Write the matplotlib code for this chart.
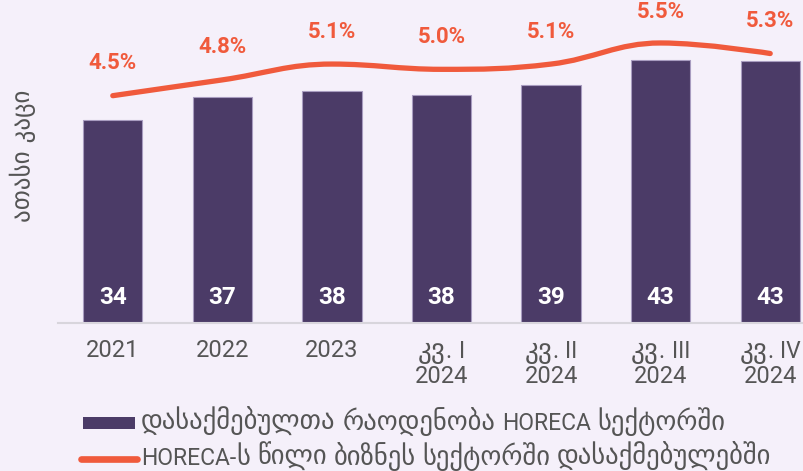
import matplotlib
matplotlib.use("Agg")
import matplotlib.pyplot as plt
from matplotlib.path import Path
from matplotlib.patches import PathPatch, Rectangle
from matplotlib.lines import Line2D
from matplotlib.transforms import IdentityTransform

categories = ["2021", "2022", "2023", "კვ. I\n2024", "კვ. II\n2024", "კვ. III\n2024", "კვ. IV\n2024"]
employed = [33.3, 37.0, 37.9, 37.3, 38.9, 43.0, 42.9]
employed_labels = ["34", "37", "38", "38", "39", "43", "43"]
share = [4.5, 4.8, 5.1, 5.0, 5.1, 5.5, 5.3]
share_labels = ["4.5%", "4.8%", "5.1%", "5.0%", "5.1%", "5.5%", "5.3%"]
ylabel = "ათასი კაცი"
legend_bar = "დასაქმებულთა რაოდენობა HORECA სექტორში"
legend_line = "HORECA-ს წილი ბიზნეს სექტორში დასაქმებულებში"

BG = "#F5F0FA"
BAR = "#4B3B67"
LINE = "#F05A3C"
GRAY = "#555555"
LAT = "Roboto"
GEO = "DejaVu Sans"

plt.rcParams["font.family"] = [LAT, GEO]

W, H = 804, 471
fig = plt.figure(figsize=(W / 100, H / 100), dpi=100, facecolor=BG)
renderer = fig.canvas.get_renderer()
ax = fig.add_axes([58 / W, (H - 323) / H, 767 / W, 303 / H])
ax.set_facecolor("none")
ax.patch.set_alpha(0)

x = list(range(len(categories)))
ax.bar(x, employed, width=0.54, color=BAR, edgecolor="#A89CC0", linewidth=0.8, zorder=2)
ax.set_xlim(-0.5, 6.5)
ax.set_ylim(0, 303 / 6.11)
for s in ["top", "right", "left"]:
    ax.spines[s].set_visible(False)
ax.spines["bottom"].set_color("#D8D5DC")
ax.spines["bottom"].set_linewidth(1.5)
ax.set_yticks([])
ax.set_xticks(x)
ax.set_xticklabels([])
ax.tick_params(axis="x", length=0)

for xi, lab in zip(x, employed_labels):
    ax.annotate(lab, (xi, 0), xytext=(0, 26), textcoords="offset pixels",
                ha="center", va="center", fontsize=17.5, fontweight="bold",
                color="white", zorder=3)

ax2 = ax.twinx()
ax2.set_ylim(0.187, 5.936)
ax2.axis("off")

# smooth spline path through the data points (Highcharts-style control points)
sm = 1.5
den = sm + 1
verts = [(x[0], share[0])]
codes = [Path.MOVETO]
ctrl = []
n = len(x)
for i in range(n):
    px, py = x[i], share[i]
    if 0 < i < n - 1:
        lx, ly = x[i - 1], share[i - 1]
        nx, ny = x[i + 1], share[i + 1]
        lcx = (sm * px + lx) / den
        lcy = (sm * py + ly) / den
        rcx = (sm * px + nx) / den
        rcy = (sm * py + ny) / den
        if rcx != lcx:
            corr = ((rcy - lcy) * (rcx - px)) / (rcx - lcx) + py - rcy
            lcy += corr
            rcy += corr
        if lcy > ly and lcy > py:
            lcy = max(ly, py)
            rcy = 2 * py - lcy
        elif lcy < ly and lcy < py:
            lcy = min(ly, py)
            rcy = 2 * py - lcy
        if rcy > ny and rcy > py:
            rcy = max(ny, py)
            lcy = 2 * py - rcy
        elif rcy < ny and rcy < py:
            rcy = min(ny, py)
            lcy = 2 * py - rcy
        ctrl.append(((lcx, lcy), (rcx, rcy)))
    else:
        ctrl.append(((px, py), (px, py)))
for i in range(1, n):
    verts += [ctrl[i - 1][1], ctrl[i][0], (x[i], share[i])]
    codes += [Path.CURVE4] * 3
ax2.add_patch(PathPatch(Path(verts, codes), facecolor="none", edgecolor=LINE,
                        linewidth=3.8, capstyle="round", zorder=4))

for xi, yi, lab in zip(x, share, share_labels):
    py_top = H - ax2.transData.transform((xi, yi))[1]
    off = min(32.5, py_top - 12.5)
    ax2.annotate(lab, (xi, yi), xytext=(0, off), textcoords="offset pixels",
                 ha="center", va="center", fontsize=16, fontweight="bold",
                 color=LINE, zorder=5)

fig.text(23 / W, 1 - 155.5 / H, ylabel, rotation=90, ha="center", va="center",
         fontsize=18, color=GRAY, family=GEO)


# ---- mixed-script text: Georgian runs in DejaVu, Latin runs in Roboto ----
def is_geo(ch):
    return "\u10A0" <= ch <= "\u10FF"


def split_runs(word):
    runs = []
    for ch in word:
        g = is_geo(ch)
        if runs and runs[-1][1] == g:
            runs[-1][0] += ch
        else:
            runs.append([ch, g])
    return runs


def text_width(s, fam, size):
    t = fig.text(0, 0, s, family=fam, fontsize=size, transform=IdentityTransform())
    w = t.get_window_extent(renderer).width
    t.remove()
    return w


def rich_text(xpx, ytop, s, lat_size, geo_size, ha="left"):
    ybase = H - ytop
    space = text_width("a a", GEO, geo_size * 0.8) - text_width("aa", GEO, geo_size * 0.8)
    items = []
    for wi, word in enumerate(s.split(" ")):
        if wi > 0:
            items.append(("gap", space))
        for run, g in split_runs(word):
            fam, size = (GEO, geo_size) if g else (LAT, lat_size)
            items.append((run, fam, size, text_width(run, fam, size)))
    total = sum(it[-1] for it in items)
    cur = xpx - (total / 2 if ha == "center" else 0)
    for it in items:
        if it[0] != "gap":
            fig.text(cur, ybase, it[0], family=it[1], fontsize=it[2], color=GRAY,
                     ha="left", va="baseline", transform=IdentityTransform())
        cur += it[-1]


# x tick labels
for xi, lab in zip(x, categories):
    cx = ax.transData.transform((xi, 0))[0]
    lines = lab.split("\n")
    if len(lines) == 1:
        fig.text(cx, H - 357.3, lines[0], family=LAT, fontsize=17, color=GRAY,
                 ha="center", va="baseline", transform=IdentityTransform())
    else:
        rich_text(cx, 357.5, lines[0], 16.5, 19.5, ha="center")
        fig.text(cx, H - 383.3, lines[1], family=LAT, fontsize=17, color=GRAY,
                 ha="center", va="baseline", transform=IdentityTransform())

# legend
fig.add_artist(Rectangle((83, H - 429), 52, 12, facecolor=BAR, edgecolor="none",
                         transform=IdentityTransform()))
fig.add_artist(Line2D([81, 137], [H - 458.7, H - 458.7], color=LINE, linewidth=4.8,
                      solid_capstyle="round", transform=IdentityTransform()))
rich_text(141, 429.5, legend_bar, 16.5, 19.2)
rich_text(141, 465.0, legend_line, 16.5, 19.2)

fig.savefig("out.png", dpi=100, facecolor=BG)
